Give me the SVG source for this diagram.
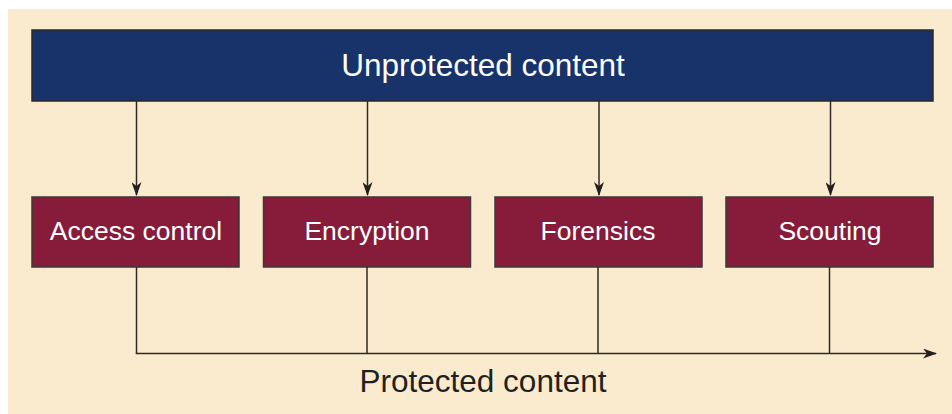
<svg xmlns="http://www.w3.org/2000/svg" width="952" height="414" viewBox="0 0 952 414">
<defs>
<style>
.bg{fill:#FAEBCE}
.top{fill:#17336A;stroke:#2a2a2a;stroke-width:1.5}
.box{fill:#861B3A;stroke:#3a3a3a;stroke-width:1.5}
.lbl{font-family:"Liberation Sans",Arial,sans-serif;fill:#ffffff;text-anchor:middle}
.conn{stroke:#2e2a26;stroke-width:1.5;fill:none}
.out{font-family:"Liberation Sans",Arial,sans-serif;fill:#231f20;text-anchor:middle;font-size:31.5px}
</style>
<marker id="arr" markerWidth="14" markerHeight="10" refX="13" refY="5" orient="auto" markerUnits="userSpaceOnUse">
<path d="M0,0 L14,5 L0,10 L4,5 Z" fill="#231f20"/>
</marker>
</defs>
<rect class="bg" x="8" y="9" width="944" height="405"/>
<g id="unprotected">
<rect class="top" x="32" y="30" width="901" height="71"/>
<text class="lbl" x="483" y="76" font-size="31.5px">Unprotected content</text>
</g>
<g id="access-control">
<rect class="box" x="32" y="197" width="207" height="70"/>
<text class="lbl" x="136" y="240" font-size="26.5px">Access control</text>
</g>
<g id="encryption">
<rect class="box" x="263.5" y="197" width="207" height="70"/>
<text class="lbl" x="367" y="240" font-size="26.5px">Encryption</text>
</g>
<g id="forensics">
<rect class="box" x="495" y="197" width="207" height="70"/>
<text class="lbl" x="598" y="240" font-size="26.5px">Forensics</text>
</g>
<g id="scouting">
<rect class="box" x="726" y="197" width="207" height="70"/>
<text class="lbl" x="830" y="240" font-size="26.5px">Scouting</text>
</g>
<g id="connectors">
<line class="conn" x1="136.5" y1="101" x2="136.5" y2="195" marker-end="url(#arr)"/>
<line class="conn" x1="367.5" y1="101" x2="367.5" y2="195" marker-end="url(#arr)"/>
<line class="conn" x1="599" y1="101" x2="599" y2="195" marker-end="url(#arr)"/>
<line class="conn" x1="830.5" y1="101" x2="830.5" y2="195" marker-end="url(#arr)"/>
<line class="conn" x1="136.5" y1="267" x2="136.5" y2="353.5"/>
<line class="conn" x1="367" y1="267" x2="367" y2="353.5"/>
<line class="conn" x1="598" y1="267" x2="598" y2="353.5"/>
<line class="conn" x1="829.5" y1="267" x2="829.5" y2="353.5"/>
<line class="conn" x1="135.75" y1="353.5" x2="936" y2="353.5" marker-end="url(#arr)"/>
</g>
<text class="out" x="483" y="392">Protected content</text>
</svg>
